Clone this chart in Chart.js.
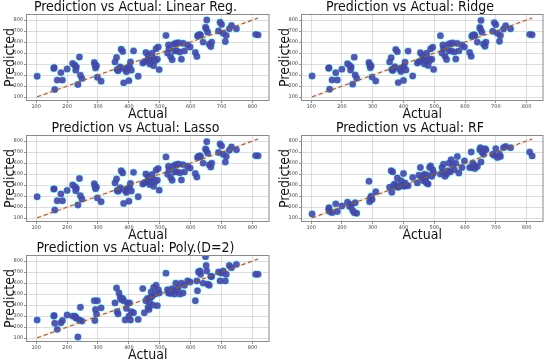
<!DOCTYPE html>
<html>
<head>
<meta charset="utf-8">
<script src="https://cdn.jsdelivr.net/npm/chart.js@4.4.1/dist/chart.umd.min.js"></script>
<style>
  body { margin: 0; background: #fff; width: 550px; height: 364px; position: relative; overflow: hidden; }
  canvas { position: absolute; }
</style>
</head>
<body>
<canvas id="c1" width="275" height="124" style="left:0px;top:0px"></canvas>
<canvas id="c2" width="274" height="124" style="left:275px;top:0px"></canvas>
<canvas id="c3" width="275" height="124" style="left:0px;top:121px"></canvas>
<canvas id="c4" width="274" height="124" style="left:275px;top:121px"></canvas>
<canvas id="c5" width="275" height="124" style="left:0px;top:241px"></canvas>
<script>
// actual target values (shared test set)
const actual = [
  103, 157, 158, 160, 168, 180, 185, 200, 218, 225, 228, 230, 235, 240, 243, 248,
  288, 290, 292, 295, 298, 310,
  355, 360, 362, 365, 368, 372, 375, 380, 383, 388, 392, 395, 400, 402, 405, 408, 415,
  430, 445, 450, 455, 460, 462, 465, 468, 470, 472, 475, 478, 480, 485, 488, 492, 495, 498,
  520, 525, 528, 530, 535, 540, 545, 548, 552, 555, 560, 565, 570, 575, 580, 590, 598,
  615, 620, 622, 625, 630, 632, 640, 648, 650, 652, 655, 660, 665, 668,
  690, 695, 700, 705, 712, 715, 725, 732, 748,
  810, 818
];

const predLinear = [
  290, 360, 370, 170, 255, 323, 255, 355, 405, 390, 345, 375, 215, 465, 300, 270,
  415, 395, 365, 385, 280, 245,
  420, 460, 350, 340, 355, 375, 535, 515, 230, 350, 330, 365, 250, 380, 420, 345, 520,
  290, 410, 420, 505, 430, 480, 440, 400, 440, 420, 500, 455, 385, 430, 540, 445, 555, 350,
  660, 500, 575, 540, 470, 440, 580, 520, 590, 520, 595, 510, 445, 590, 520, 575, 555,
  505, 470, 655, 665, 670, 660, 600, 735, 720, 800, 690, 580, 560, 600,
  700, 780, 760, 680, 605, 660, 720, 750, 720,
  670, 665
];

const predRidge = [
  292, 362, 368, 172, 256, 322, 256, 354, 404, 388, 346, 374, 218, 463, 302, 272,
  414, 394, 366, 384, 282, 247,
  420, 458, 351, 342, 356, 376, 532, 513, 232, 351, 332, 365, 252, 380, 418, 346, 518,
  292, 410, 420, 503, 430, 478, 440, 402, 440, 421, 498, 455, 387, 430, 538, 445, 553, 352,
  658, 500, 574, 540, 471, 442, 578, 520, 588, 520, 593, 511, 446, 588, 520, 574, 555,
  505, 472, 653, 663, 668, 658, 600, 732, 718, 797, 690, 582, 562, 600,
  698, 777, 758, 680, 607, 660, 718, 748, 720,
  670, 666
];

const predLasso = [
  294, 364, 366, 174, 258, 320, 258, 352, 402, 386, 348, 372, 220, 460, 304, 274,
  412, 392, 367, 382, 284, 249,
  420, 456, 352, 344, 357, 376, 530, 511, 234, 352, 334, 365, 254, 380, 416, 347, 516,
  294, 410, 420, 501, 430, 476, 440, 404, 440, 422, 496, 455, 389, 430, 536, 445, 551, 354,
  656, 500, 572, 540, 472, 444, 576, 520, 586, 520, 591, 512, 447, 586, 520, 572, 555,
  505, 474, 651, 661, 666, 656, 600, 729, 716, 794, 690, 584, 564, 600,
  696, 774, 756, 680, 609, 660, 716, 746, 720,
  668, 666
];

const predRF = [
  138, 180, 195, 160, 150, 230, 160, 210, 245, 205, 225, 215, 170, 150, 240, 145,
  435, 250, 280, 300, 270, 340,
  380, 530, 335, 520, 400, 410, 385, 465, 380, 390, 440, 400, 505, 390, 420, 395, 395,
  470, 420, 490, 560, 470, 480, 440, 500, 450, 460, 420, 490, 410, 560, 575, 480, 540, 510,
  500, 560, 520, 590, 480, 500, 530, 600, 520, 630, 580, 540, 600, 660, 510, 560, 620,
  560, 700, 560, 600, 580, 550, 570, 720, 740, 610, 700, 680, 730, 720,
  680, 670, 730, 650, 680, 660, 740, 750, 740,
  700, 665
];

const predPoly = [
  265, 300, 305, 235, 180, 240, 260, 310, 300, 300, 290, 280, 110, 265, 380, 255,
  440, 260, 360, 320, 440, 375,
  420, 555, 340, 320, 510, 470, 450, 460, 440, 265, 370, 420, 300, 420, 265, 340, 330,
  270, 550, 330, 440, 460, 380, 360, 420, 470, 520, 480, 400, 560, 500, 580, 395, 540, 510,
  690, 540, 510, 520, 505, 550, 530, 500, 600, 530, 560, 500, 600, 510, 580, 620, 610,
  440, 620, 530, 700, 710, 680, 600, 840, 760, 710, 590, 580, 660, 660,
  700, 620, 690, 710, 620, 680, 760, 740, 770,
  680, 680
];

const titles = [
  'Prediction vs Actual: Linear Reg.',
  'Prediction vs Actual: Ridge',
  'Prediction vs Actual: Lasso',
  'Prediction vs Actual: RF',
  'Prediction vs Actual: Poly.(D=2)'
];
const allPreds = [predLinear, predRidge, predLasso, predRF, predPoly];
const tickValues = [100, 200, 300, 400, 500, 600, 700, 800];

const fam = "'Liberation Sans Narrow', 'DejaVu Sans Condensed', 'DejaVu Sans', sans-serif";

// full box around the plot area, like matplotlib spines
const frameBox = {
  id: 'frameBox',
  afterDraw(chart) {
    const { ctx, chartArea: a } = chart;
    ctx.save();
    ctx.strokeStyle = '#8a8a8a';
    ctx.lineWidth = 1;
    ctx.strokeRect(a.left + 0.5, a.top + 0.5, a.right - a.left - 1, a.bottom - a.top - 1);
    ctx.restore();
  }
};

const makeChart = (canvasId, title, preds) => {
  const pts = actual.map((a, i) => ({ x: a, y: preds[i] }));
  const lo = Math.min(...actual), hi = Math.max(...actual);
  const diag = [{ x: lo, y: lo }, { x: hi, y: hi }];

  const axis = (isX) => ({
    type: 'linear',
    min: isX ? 67 : 65,
    max: 855,
    afterBuildTicks: (s) => { s.ticks = tickValues.map(v => ({ value: v })); },
    afterFit: (s) => { if (isX) s.height = 23; else s.width = 26; },
    ticks: { font: { size: 5, family: 'DejaVu Sans' }, color: '#444', padding: 1 },
    grid: { color: '#d4d4d4', lineWidth: 0.8, tickLength: 2, tickColor: '#777' },
    border: { display: false },
    title: {
      display: true,
      text: isX ? 'Actual' : 'Predicted',
      color: '#111',
      font: { size: 14, family: fam, lineHeight: 1 },
      padding: isX ? { top: 0, bottom: 3 } : { top: 3, bottom: 0 }
    }
  });

  new Chart(document.getElementById(canvasId).getContext('2d'), {
    type: 'scatter',
    data: {
      datasets: [
        {
          type: 'line', data: diag, borderColor: 'rgba(255,190,190,0.35)', borderWidth: 3,
          pointRadius: 0, order: 2
        },
        {
          type: 'line', data: diag, borderColor: '#7f6a3a', borderWidth: 1.1,
          borderDash: [4, 3], pointRadius: 0, order: 0
        },
        {
          data: pts, pointStyle: 'rect', pointRadius: 5.5,
          backgroundColor: 'rgba(175,252,250,0.6)', borderWidth: 0, order: 3
        },
        {
          data: pts, pointRadius: 3.2,
          backgroundColor: 'rgba(72,70,165,0.9)', borderColor: 'rgba(50,90,175,0.7)',
          borderWidth: 0.5, order: 1
        }
      ]
    },
    options: {
      responsive: false,
      animation: false,
      devicePixelRatio: 1,
      layout: { padding: { left: 0, right: 4, top: 0, bottom: 0 } },
      plugins: {
        legend: { display: false },
        tooltip: { enabled: false },
        title: {
          display: true, text: title, color: '#111',
          font: { size: 14, family: fam, weight: 'normal', lineHeight: 1 },
          padding: { top: 0, bottom: 0 }
        }
      },
      scales: { x: axis(true), y: axis(false) }
    },
    plugins: [frameBox]
  });
};

titles.forEach((t, i) => makeChart('c' + (i + 1), t, allPreds[i]));
</script>
</body>
</html>
